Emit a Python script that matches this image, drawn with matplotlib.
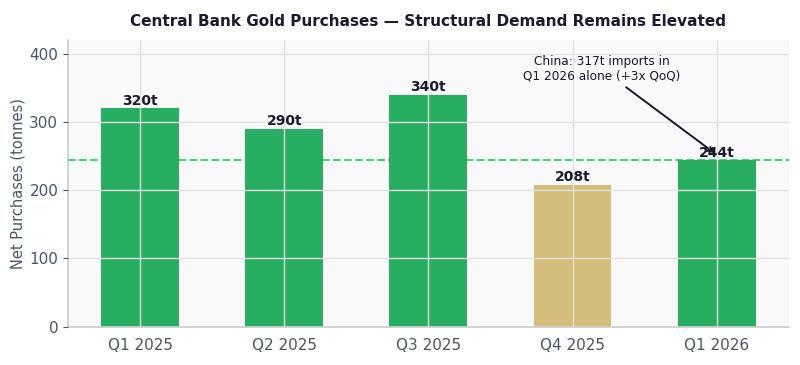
import matplotlib
matplotlib.use("Agg")
import matplotlib.pyplot as plt

# Dados
quarters = ["Q1 2025", "Q2 2025", "Q3 2025", "Q4 2025", "Q1 2026"]
purchases = [320, 290, 340, 208, 244]
bar_colors = ["#27ae60", "#27ae60", "#27ae60", "#d4bc7a", "#27ae60"]
ref_level = 244

fig, ax = plt.subplots(figsize=(8, 3.65), dpi=100)
fig.patch.set_facecolor("white")
ax.set_facecolor("#f9f9f9")

x = range(len(quarters))
ax.bar(x, purchases, width=0.54, color=bar_colors, zorder=2)
ax.axhline(ref_level, color="#58c882", linestyle="--", linewidth=1.5, zorder=1)

# Etiquetas dos valores
for xi, v in zip(x, purchases):
    ax.text(xi, v + 1, f"{v}t", ha="center", va="bottom",
            fontsize=10, fontweight="bold", color="#1a1a2e", zorder=4)

ax.annotate("China: 317t imports in\nQ1 2026 alone (+3x QoQ)",
            xy=(4, 252), xytext=(3.2, 378),
            ha="center", va="center", fontsize=8.7, color="#1a1a2e",
            arrowprops=dict(arrowstyle="->", color="#1a1a2e", lw=1.4),
            zorder=5)

ax.set_xticks(list(x))
ax.set_xticklabels(quarters)
ax.set_xlim(-0.5, 4.5)
ax.set_ylim(0, 420)
ax.set_yticks([0, 100, 200, 300, 400])
ax.set_ylabel("Net Purchases (tonnes)", fontsize=10.5, color="#4a5568", labelpad=3)
ax.tick_params(axis="both", labelsize=11, colors="#4a5568")
ax.tick_params(axis="x", length=0, pad=8)

ax.grid(True, color="#e2e2e2", linewidth=1, zorder=3)
ax.set_axisbelow(False)

for s in ["top", "right"]:
    ax.spines[s].set_visible(False)
for s in ["left", "bottom"]:
    ax.spines[s].set_color("#cccccc")
    ax.spines[s].set_linewidth(1.2)

ax.set_title("Central Bank Gold Purchases — Structural Demand Remains Elevated",
             fontsize=11, fontweight="bold", color="#1a1a2e", pad=10)

plt.subplots_adjust(left=0.085, right=0.986, top=0.89, bottom=0.105)
fig.savefig("out.png", dpi=100)
